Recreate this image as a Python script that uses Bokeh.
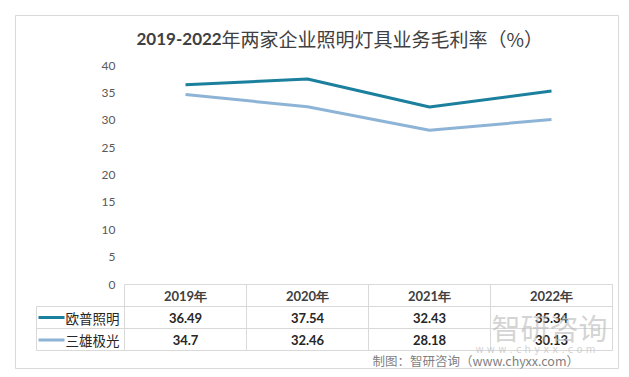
from bokeh.plotting import figure
from bokeh.models import Range1d, FixedTicker
from bokeh.core.properties import value
from bokeh.embed import file_html
from bokeh.resources import INLINE

# ---------------- data ----------------
years = ["2019年", "2020年", "2021年", "2022年"]
series_names = ["欧普照明", "三雄极光"]
opple = [36.49, 37.54, 32.43, 35.34]
sanxiong = [34.7, 32.46, 28.18, 30.13]
y_ticks = [0, 5, 10, 15, 20, 25, 30, 35, 40]
title_num = "2019-2022"
title_rest = "年两家企业照明灯具业务毛利率（%）"
source_text = "制图：智研咨询（www.chyxx.com）"
wm_text = "智研咨询"
wm_url = "w w w . c h y x x . c o m"

series = [opple, sanxiong]
colors = ["#1b7f9e", "#8db4d6"]
n = len(years)

# ---------------- layout helpers (canvas px -> data) ----------------
X0, XS = 124.0, 122.0      # canvas x of data x=0, px per category
Y0, YS = 284.0, 5.475      # canvas y of data y=0, px per unit
def px2x(px):
    return (px - X0) / XS
def px2y(py):
    return (Y0 - py) / YS

W, H = 621, 369
FL, FR, FT, FB = 15, 618, 15, 368   # frame (outer box) in canvas px

p = figure(width=W, height=H, output_backend="svg", toolbar_location=None,
           x_range=Range1d(px2x(FL), px2x(FR)), y_range=Range1d(px2y(FB), px2y(FT)),
           x_axis_location=None, y_axis_location="left",
           min_border_left=FL, min_border_right=W - FR,
           min_border_top=FT, min_border_bottom=H - FB)
p.outline_line_color = "#d9d9d9"
p.outline_line_width = 1
p.background_fill_color = "white"
p.border_fill_color = "white"
p.grid.visible = False

ax = p.yaxis[0]
ax.fixed_location = 0
ax.ticker = FixedTicker(ticks=y_ticks)
ax.axis_line_color = None
ax.major_tick_line_color = None
ax.minor_tick_line_color = None
ax.major_tick_out = 0
ax.major_tick_in = 0
ax.major_label_standoff = 9
ax.major_label_text_font = "Lato"
ax.major_label_text_font_size = "12px"
ax.major_label_text_color = "#595959"

xs = [i + 0.5 for i in range(n)]

# ---------------- lines ----------------
for vals, c in zip(series, colors):
    p.line(xs, vals, line_color=c, line_width=3)

# ---------------- table ----------------
grid_c = "#d9d9d9"
row_tops = [284, 306, 328, 350]
p.segment(x0=[0], y0=[px2y(row_tops[0])], x1=[n], y1=[px2y(row_tops[0])],
          line_color=grid_c, line_width=1)
p.segment(x0=[px2x(36)] * 3, y0=[px2y(r) for r in row_tops[1:]],
          x1=[n] * 3, y1=[px2y(r) for r in row_tops[1:]],
          line_color=grid_c, line_width=1)
p.segment(x0=list(range(n + 1)), y0=[px2y(row_tops[0])] * (n + 1),
          x1=list(range(n + 1)), y1=[px2y(row_tops[-1])] * (n + 1),
          line_color=grid_c, line_width=1)
p.segment(x0=[px2x(36)], y0=[px2y(row_tops[1])], x1=[px2x(36)], y1=[px2y(row_tops[-1])],
          line_color=grid_c, line_width=1)

p.text(x=xs, y=[px2y(295.5)] * n, text=years, text_align="center", text_baseline="middle",
       text_font=value("Lato"), text_font_style="bold", text_font_size="13px",
       text_color="#404040")
row_cy = [317, 339.5]
for vals, name, c, cy in zip(series, series_names, colors, row_cy):
    p.text(x=xs, y=[px2y(cy)] * n, text=[str(v) for v in vals], text_align="center",
           text_baseline="middle", text_font=value("Lato"), text_font_style="bold",
           text_font_size="13px", text_color="#262626")
    p.segment(x0=[px2x(38)], y0=[px2y(cy)], x1=[px2x(64)], y1=[px2y(cy)],
              line_color=c, line_width=3)
    p.text(x=[px2x(65)], y=[px2y(cy)], text=[name], text_align="left",
           text_baseline="middle", text_font=value("Noto Sans CJK SC"),
           text_font_size="13.5px", text_color="#262626")

# ---------------- title ----------------
p.text(x=[px2x(136)], y=[px2y(38)], text=[title_num], text_align="left",
       text_baseline="middle", text_font=value("Lato"), text_font_style="bold",
       text_font_size="17px", text_color="#404040")
p.text(x=[px2x(221)], y=[px2y(38)], text=[title_rest], text_align="left",
       text_baseline="middle", text_font=value("Noto Sans CJK SC"),
       text_font_size="19px", text_color="#404040")

# ---------------- watermark & source ----------------
p.text(x=[px2x(549)], y=[px2y(326)], text=[wm_text], text_align="center",
       text_baseline="middle", text_font=value("Noto Sans CJK SC"),
       text_font_size="29px", text_color="#b8b8b8", text_alpha=0.6)
p.text(x=[px2x(535)], y=[px2y(349)], text=[wm_url], text_align="center",
       text_baseline="middle", text_font=value("DejaVu Sans"),
       text_font_size="10px", text_color="#c8c8c8", text_alpha=0.8)
p.text(x=[px2x(372)], y=[px2y(360)], text=[source_text], text_align="left",
       text_baseline="middle", text_font=value("Noto Sans CJK SC"),
       text_font_size="12.5px", text_color="#7f7f7f")

open("out.html", "w").write(file_html(p, INLINE))
